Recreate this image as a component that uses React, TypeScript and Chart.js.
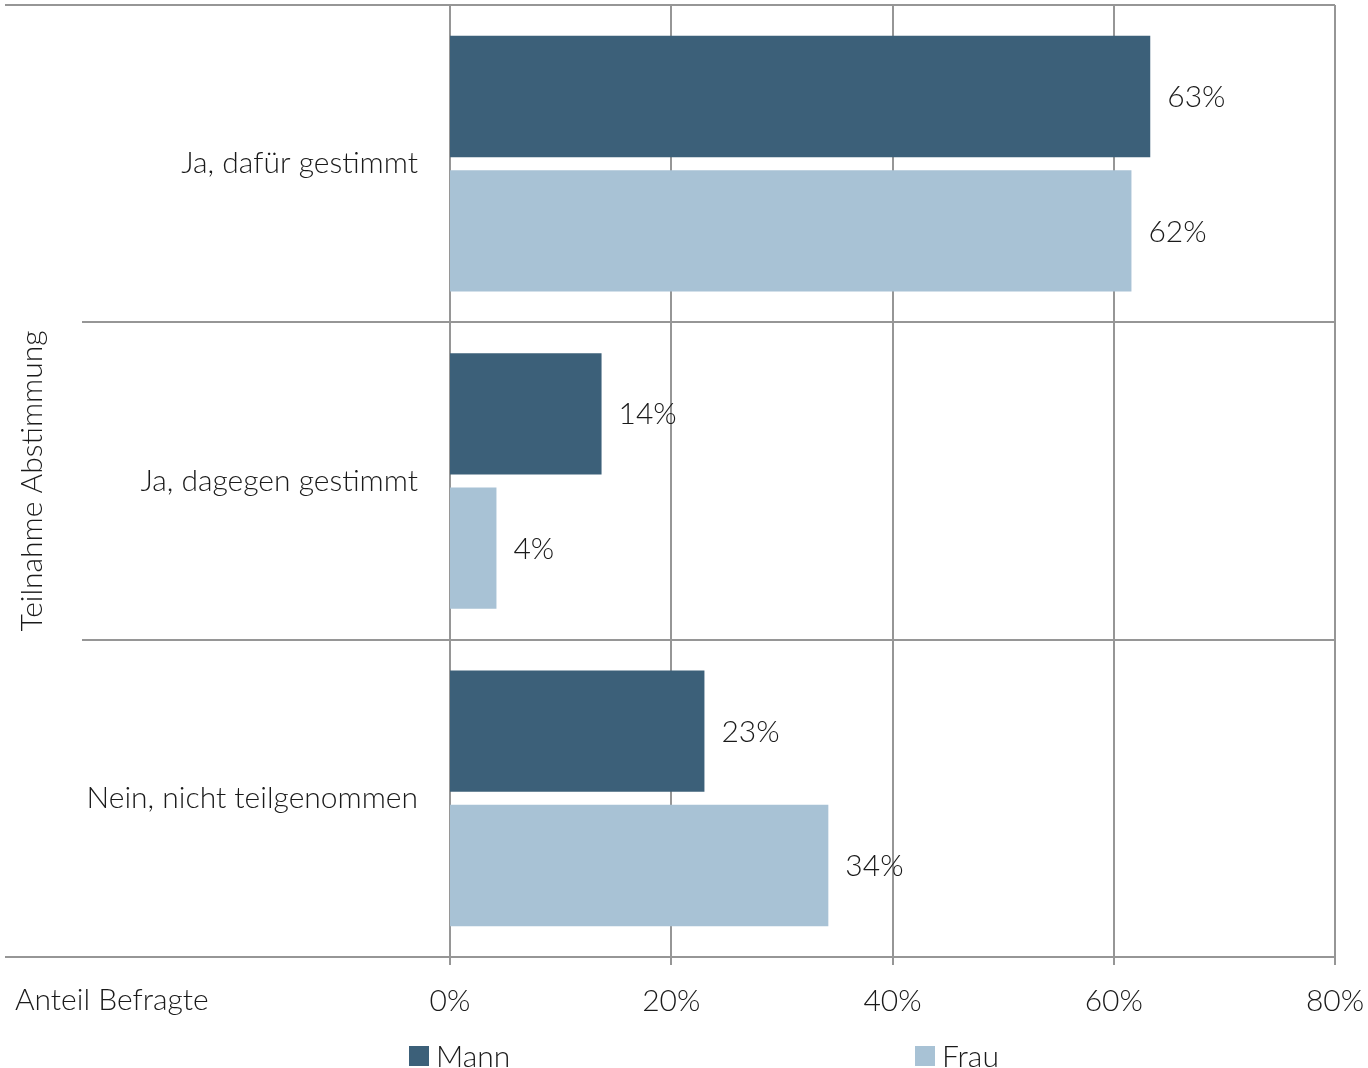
import React, { useEffect, useRef } from "react";
import { Chart, registerables } from "chart.js";

Chart.register(...registerables);

const categories = ["Ja, dafür gestimmt", "Ja, dagegen gestimmt", "Nein, nicht teilgenommen"];
const seriesNames = ["Mann", "Frau"];
const mannValues = [63.3, 13.7, 23.0];
const frauValues = [61.6, 4.2, 34.2];
const xTicks = [0, 20, 40, 60, 80];
const yTitle = "Teilnahme Abstimmung";
const xTitle = "Anteil Befragte";

const COLORS = ["#3c6079", "#a8c2d5"];
const FONT = "'Lato Light', Lato, 'Open Sans', sans-serif";
const LINE = "#969696";
const TEXT = "#1a1a1a";

const linesPlugin = {
  id: "customLines",
  beforeDatasetsDraw(chart: any) {
    const { ctx, chartArea } = chart;
    const { right, top, bottom } = chartArea;
    const xs = chart.scales.x;
    ctx.save();
    ctx.strokeStyle = LINE;
    ctx.lineWidth = 2;
    xTicks.forEach((t) => {
      const x = Math.round(xs.getPixelForValue(t));
      ctx.beginPath();
      ctx.moveTo(x, top);
      ctx.lineTo(x, bottom + 8);
      ctx.stroke();
    });
    const n = categories.length;
    const h = (bottom - top) / n;
    for (let i = 0; i <= n; i++) {
      const y = Math.round(top + h * i);
      const x0 = i === 0 || i === n ? 5 : 82;
      ctx.beginPath();
      ctx.moveTo(x0, y);
      ctx.lineTo(right, y);
      ctx.stroke();
    }
    ctx.restore();
  },
  afterDraw(chart: any) {
    const { ctx, chartArea } = chart;
    const xs = chart.scales.x;
    const ys = chart.scales.y;
    ctx.save();
    ctx.font = `300 30px ${FONT}`;
    ctx.fillStyle = TEXT;
    // value labels
    chart.data.datasets.forEach((ds: any, di: number) => {
      const meta = chart.getDatasetMeta(di);
      meta.data.forEach((bar: any, i: number) => {
        ctx.textAlign = "left";
        ctx.textBaseline = "middle";
        ctx.fillText(Math.round(ds.data[i]) + "%", bar.x + 17, bar.y + 1);
      });
    });
    // category labels
    ctx.textAlign = "right";
    ctx.textBaseline = "middle";
    categories.forEach((c, i) => {
      ctx.fillText(c, 418, ys.getPixelForValue(i));
    });
    // x tick labels
    ctx.textAlign = "center";
    xTicks.forEach((t) => {
      ctx.fillText(t + "%", xs.getPixelForValue(t), chartArea.bottom + 44);
    });
    // x title
    ctx.textAlign = "left";
    ctx.fillText(xTitle, 15, chartArea.bottom + 43);
    // y title
    ctx.save();
    ctx.translate(32, (chartArea.top + chartArea.bottom) / 2);
    ctx.rotate(-Math.PI / 2);
    ctx.textAlign = "center";
    ctx.fillText(yTitle, 0, 0);
    ctx.restore();
    // legend
    const legendX = [409, 915];
    seriesNames.forEach((name, i) => {
      ctx.fillStyle = COLORS[i];
      ctx.fillRect(legendX[i], 1046, 20, 20);
      ctx.fillStyle = TEXT;
      ctx.textAlign = "left";
      ctx.textBaseline = "middle";
      ctx.fillText(name, legendX[i] + 27, 1057);
    });
    ctx.restore();
  },
};

export default function App() {
  const ref = useRef<HTMLCanvasElement>(null);
  useEffect(() => {
    if (!ref.current) return;
    const chart = new Chart(ref.current, {
      type: "bar",
      data: {
        labels: categories,
        datasets: [
          { label: seriesNames[0], data: mannValues, backgroundColor: COLORS[0] },
          { label: seriesNames[1], data: frauValues, backgroundColor: COLORS[1] },
        ],
      },
      options: {
        indexAxis: "y",
        animation: false,
        responsive: false,
        categoryPercentage: 0.847,
        barPercentage: 0.903,
        layout: { padding: { top: 5, right: 33, left: 0, bottom: 0 } },
        plugins: { legend: { display: false }, tooltip: { enabled: false } },
        scales: {
          x: {
            min: 0,
            max: 80,
            grid: { display: false },
            border: { display: false },
            ticks: { display: false },
            afterFit: (axis: any) => {
              axis.height = 111;
            },
          },
          y: {
            grid: { display: false },
            border: { display: false },
            ticks: { display: false },
            afterFit: (axis: any) => {
              axis.width = 450;
            },
          },
        },
      },
      plugins: [linesPlugin],
    } as any);
    return () => chart.destroy();
  }, []);
  return (
    <div style={{ position: "absolute", left: 0, top: 0, width: 1368, height: 1068, background: "#fff" }}>
      <canvas ref={ref} width={1368} height={1068} style={{ width: 1368, height: 1068, display: "block" }} />
    </div>
  );
}
